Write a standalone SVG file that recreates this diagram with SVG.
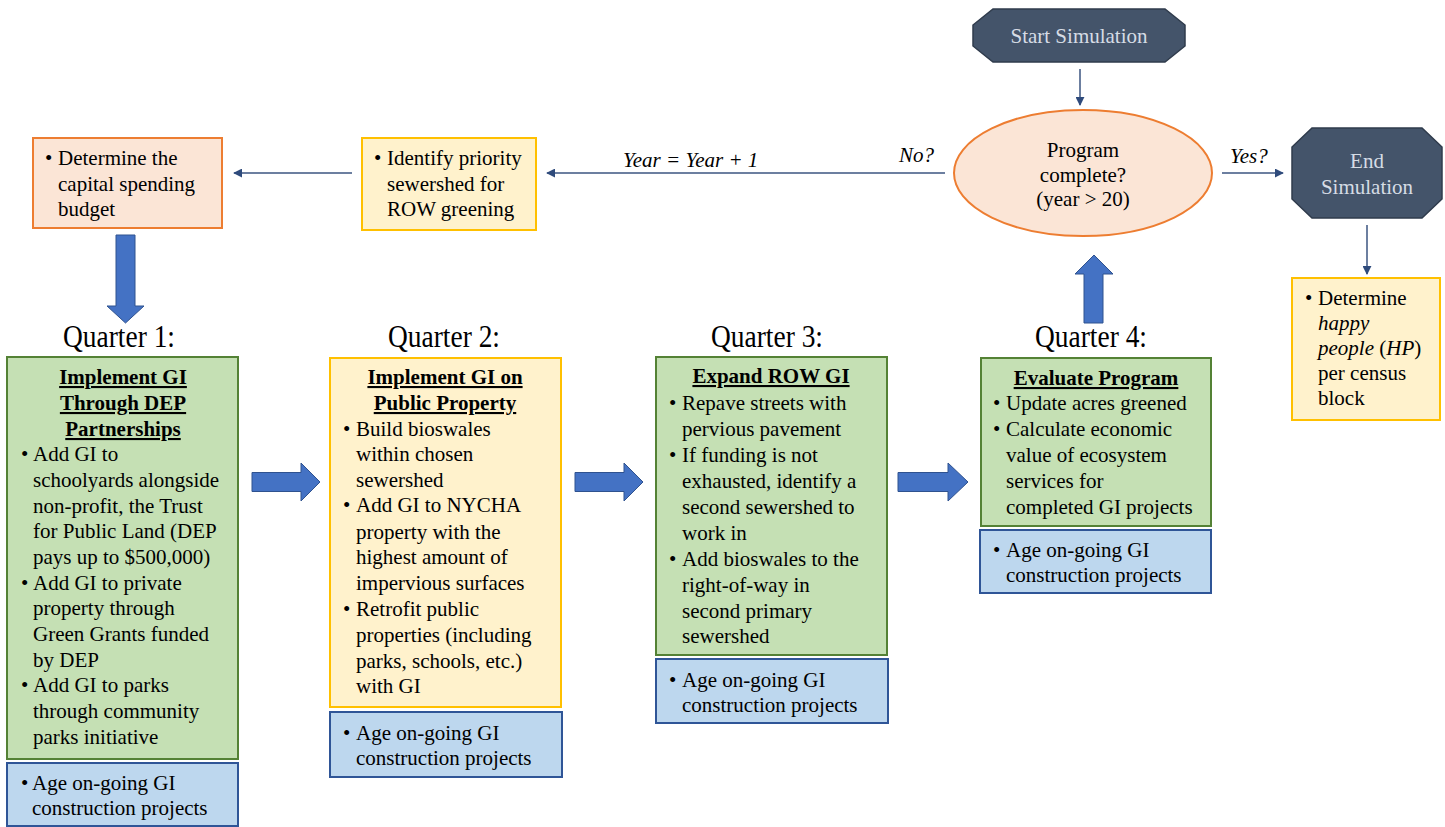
<svg xmlns="http://www.w3.org/2000/svg" width="1445" height="827" viewBox="0 0 1445 827">
<defs>
<style>
text{font-family:"Liberation Serif","Times New Roman",serif;font-size:21px;fill:#000}
.t{font-weight:bold;text-decoration:underline;text-anchor:middle}
.c{text-anchor:middle}
.i{font-style:italic}
.q{font-size:31px;text-anchor:middle}
.lt{fill:#D6DCE5}
.green{fill:#C5E0B4;stroke:#548235;stroke-width:2}
.yellow{fill:#FFF2CC;stroke:#FFC000;stroke-width:2}
.blue{fill:#BDD7EE;stroke:#2F5597;stroke-width:2}
.orange{fill:#FBE5D6;stroke:#ED7D31;stroke-width:2}
.dark{fill:#44546A;stroke:#2F3B4C;stroke-width:1.5}
.big{fill:#4472C4;stroke:#2F528F;stroke-width:1}
.thin{fill:none;stroke:#3B5580;stroke-width:1.5;marker-end:url(#ah)}
</style>
<marker id="ah" viewBox="0 0 10 10" refX="9" refY="5" markerWidth="6" markerHeight="6" orient="auto" markerUnits="strokeWidth">
<path d="M0,0 L10,5 L0,10 z" fill="#2F4B7C"/>
</marker>
</defs>

<g id="connectors">
<line class="thin" x1="1080" y1="69" x2="1080" y2="105"/>
<line class="thin" x1="945" y1="173" x2="547" y2="173"/>
<line class="thin" x1="352" y1="173" x2="234" y2="173"/>
<line class="thin" x1="1222" y1="173" x2="1283" y2="173"/>
<line class="thin" x1="1367" y1="225" x2="1367" y2="274"/>
<polygon class="big" points="116,235 135,235 135,306 144,306 125.5,323 107,306 116,306"/>
<polygon class="big" points="252,472.5 301,472.5 301,463 320,482 301,501 301,491.5 252,491.5"/>
<polygon class="big" points="575,472.5 624,472.5 624,463 643,482 624,501 624,491.5 575,491.5"/>
<polygon class="big" points="898,472.5 948,472.5 948,463 968,482 948,501 948,491.5 898,491.5"/>
<polygon class="big" points="1084,323 1103,323 1103,274 1113,274 1094,255 1075,274 1084,274"/>
<text class="i" x="623" y="167">Year = Year + 1</text>
<text class="i" x="899" y="162">No?</text>
<text class="i" x="1230" y="163">Yes?</text>
</g>

<g id="start">
<polygon class="dark" points="993,9 1165,9 1185,25 1185,46 1165,62 993,62 973,46 973,25"/>
<text class="c lt" x="1079" y="43">Start Simulation</text>
</g>

<g id="decision">
<ellipse class="orange" cx="1083" cy="173" rx="129" ry="63"/>
<text class="c" x="1083" y="157">Program</text>
<text class="c" x="1083" y="182">complete?</text>
<text class="c" x="1083" y="206">(year &gt; 20)</text>
</g>

<g id="end">
<polygon class="dark" points="1312,128 1422,128 1442,147 1442,199 1422,218 1312,218 1292,199 1292,147"/>
<text class="c lt" x="1367" y="168">End</text>
<text class="c lt" x="1367" y="194">Simulation</text>
</g>

<g id="happy-people">
<rect class="yellow" x="1292" y="278" width="148" height="142"/>
<text x="1305" y="305">•</text>
<text x="1318" y="305">Determine</text>
<text class="i" x="1318" y="330">happy</text>
<text x="1318" y="355"><tspan font-style="italic">people</tspan> (<tspan font-style="italic">HP</tspan>)</text>
<text x="1318" y="380">per census</text>
<text x="1318" y="405">block</text>
</g>

<g id="identify">
<rect class="yellow" x="362" y="138" width="174" height="92"/>
<text x="374" y="165">•</text>
<text x="387" y="165">Identify priority</text>
<text x="387" y="191">sewershed for</text>
<text x="387" y="216">ROW greening</text>
</g>

<g id="budget">
<rect class="orange" x="33" y="138" width="189" height="90"/>
<text x="45" y="165">•</text>
<text x="58" y="165">Determine the</text>
<text x="58" y="191">capital spending</text>
<text x="58" y="216">budget</text>
</g>

<g id="quarter1">
<text class="q" x="119" y="347" textLength="112" lengthAdjust="spacingAndGlyphs">Quarter 1:</text>
<rect class="green" x="7" y="357" width="231" height="402"/>
<text class="t" x="123" y="384">Implement GI</text>
<text class="t" x="123" y="410">Through DEP</text>
<text class="t" x="123" y="436">Partnerships</text>
<text x="21" y="461">•</text>
<text x="33" y="461">Add GI to</text>
<text x="33" y="487">schoolyards alongside</text>
<text x="33" y="513">non-profit, the Trust</text>
<text x="33" y="538">for Public Land (DEP</text>
<text x="33" y="564">pays up to $500,000)</text>
<text x="21" y="590">•</text>
<text x="33" y="590">Add GI to private</text>
<text x="33" y="615">property through</text>
<text x="33" y="641">Green Grants funded</text>
<text x="33" y="667">by DEP</text>
<text x="21" y="692">•</text>
<text x="33" y="692">Add GI to parks</text>
<text x="33" y="718">through community</text>
<text x="33" y="744">parks initiative</text>
<rect class="blue" x="7" y="763" width="231" height="63"/>
<text x="21" y="790">•</text>
<text x="32" y="790">Age on-going GI</text>
<text x="32" y="815">construction projects</text>
</g>

<g id="quarter2">
<text class="q" x="444" y="347" textLength="112" lengthAdjust="spacingAndGlyphs">Quarter 2:</text>
<rect class="yellow" x="330" y="358" width="231" height="349"/>
<text class="t" x="445" y="384">Implement GI on</text>
<text class="t" x="445" y="410">Public Property</text>
<text x="343" y="436">•</text>
<text x="356" y="436">Build bioswales</text>
<text x="356" y="461">within chosen</text>
<text x="356" y="487">sewershed</text>
<text x="343" y="512">•</text>
<text x="356" y="512">Add GI to NYCHA</text>
<text x="356" y="539">property with the</text>
<text x="356" y="564">highest amount of</text>
<text x="356" y="590">impervious surfaces</text>
<text x="343" y="616">•</text>
<text x="356" y="616">Retrofit public</text>
<text x="356" y="642">properties (including</text>
<text x="356" y="668">parks, schools, etc.)</text>
<text x="356" y="693">with GI</text>
<rect class="blue" x="330" y="712" width="232" height="65"/>
<text x="343" y="740">•</text>
<text x="356" y="740">Age on-going GI</text>
<text x="356" y="765">construction projects</text>
</g>

<g id="quarter3">
<text class="q" x="767" y="347" textLength="112" lengthAdjust="spacingAndGlyphs">Quarter 3:</text>
<rect class="green" x="656" y="357" width="231" height="298"/>
<text class="t" x="771" y="383">Expand ROW GI</text>
<text x="669" y="410">•</text>
<text x="682" y="410">Repave streets with</text>
<text x="682" y="436">pervious pavement</text>
<text x="669" y="462">•</text>
<text x="682" y="462">If funding is not</text>
<text x="682" y="488">exhausted, identify a</text>
<text x="682" y="514">second sewershed to</text>
<text x="682" y="540">work in</text>
<text x="669" y="566">•</text>
<text x="682" y="566">Add bioswales to the</text>
<text x="682" y="592">right-of-way in</text>
<text x="682" y="618">second primary</text>
<text x="682" y="643">sewershed</text>
<rect class="blue" x="656" y="659" width="232" height="64"/>
<text x="669" y="687">•</text>
<text x="682" y="687">Age on-going GI</text>
<text x="682" y="712">construction projects</text>
</g>

<g id="quarter4">
<text class="q" x="1091" y="347" textLength="112" lengthAdjust="spacingAndGlyphs">Quarter 4:</text>
<rect class="green" x="981" y="358" width="230" height="168"/>
<text class="t" x="1096" y="385">Evaluate Program</text>
<text x="993" y="410">•</text>
<text x="1006" y="410">Update acres greened</text>
<text x="993" y="436">•</text>
<text x="1006" y="436">Calculate economic</text>
<text x="1006" y="462">value of ecosystem</text>
<text x="1006" y="488">services for</text>
<text x="1006" y="514">completed GI projects</text>
<rect class="blue" x="980" y="530" width="231" height="63"/>
<text x="993" y="557">•</text>
<text x="1006" y="557">Age on-going GI</text>
<text x="1006" y="582">construction projects</text>
</g>
</svg>
